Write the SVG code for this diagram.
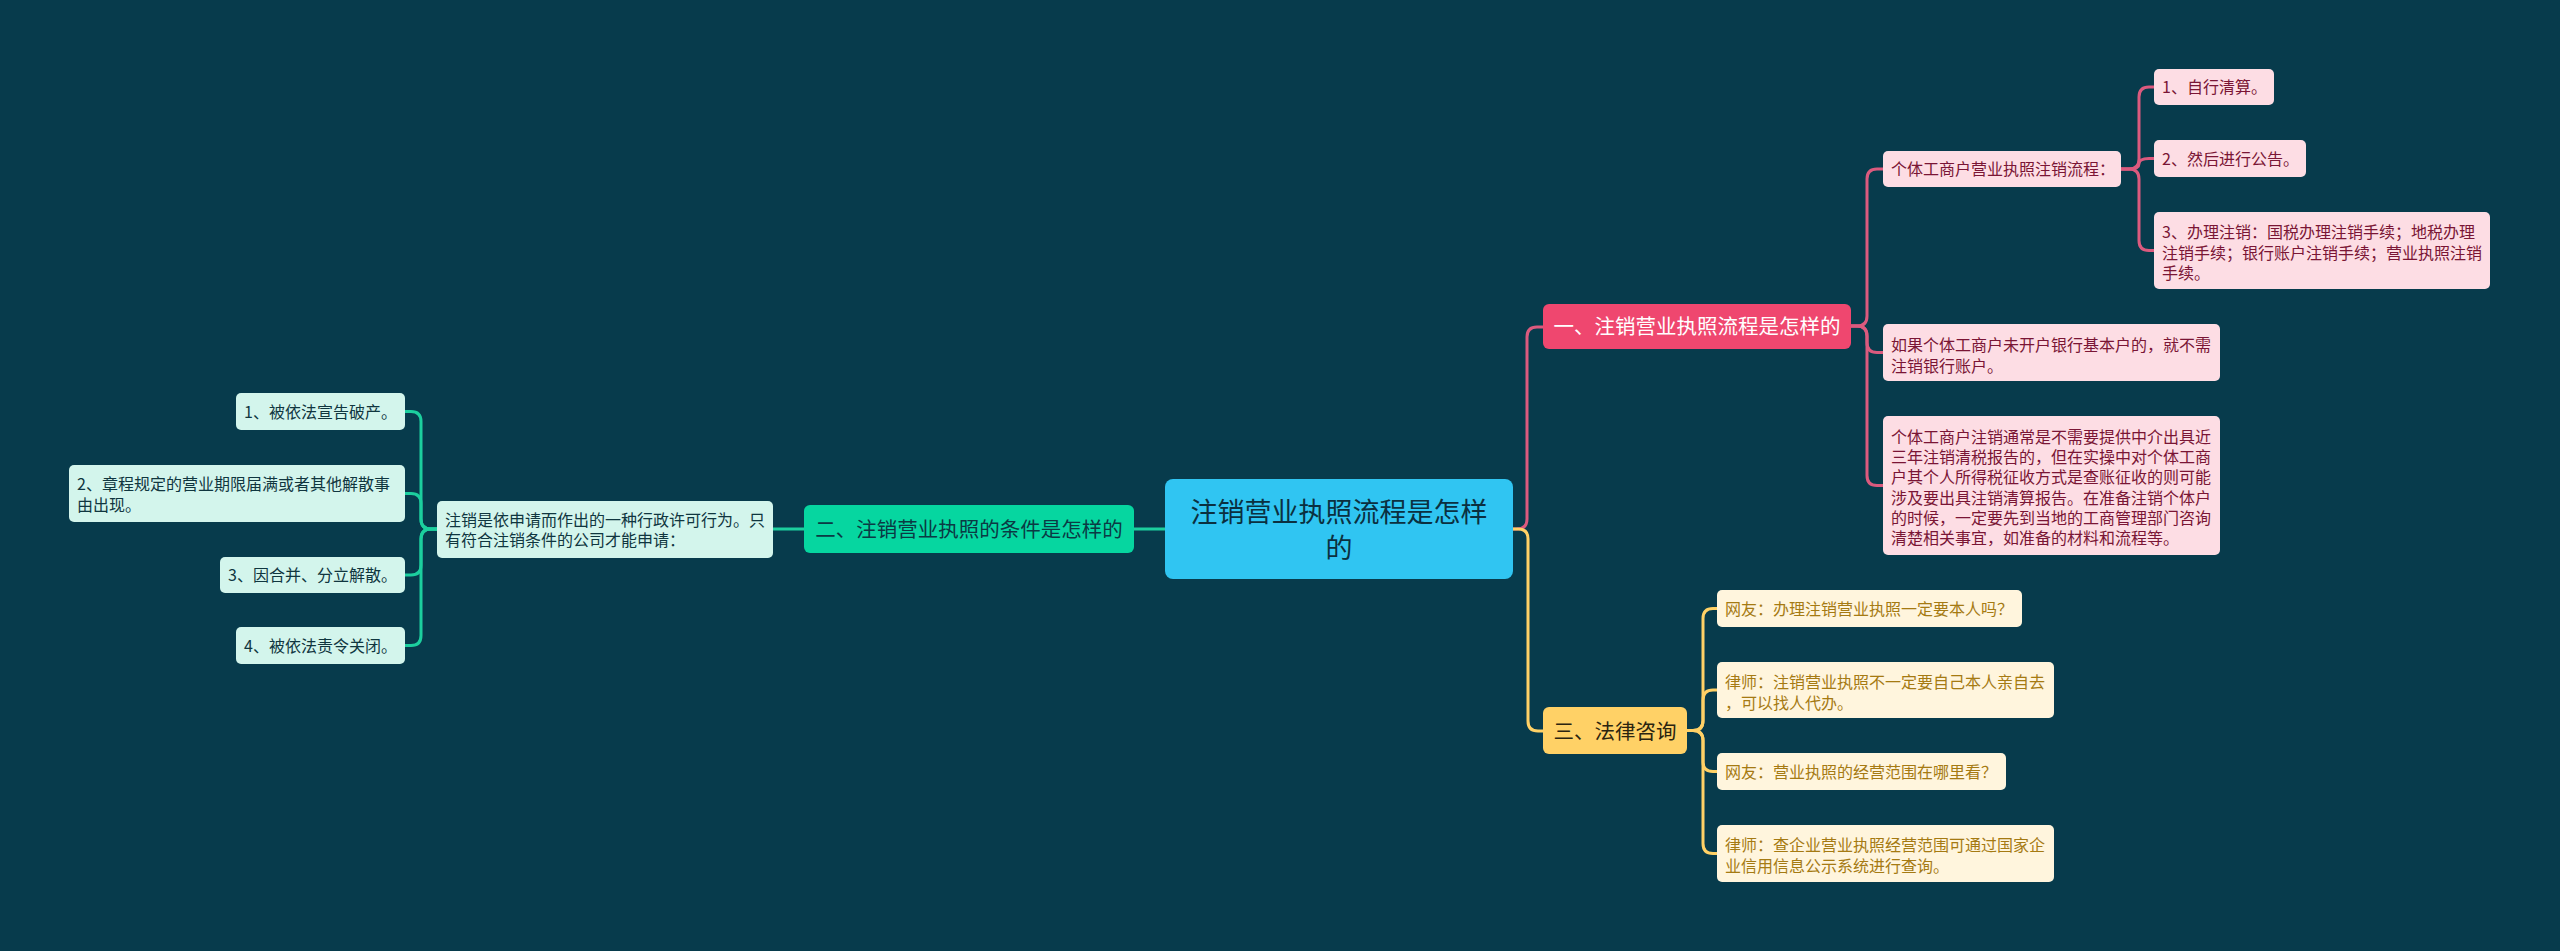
<svg xmlns="http://www.w3.org/2000/svg" width="2560" height="951" viewBox="0 0 2560 951">
<style>
text{font-family:"Noto Sans CJK SC","Microsoft YaHei",sans-serif;}
.conn{fill:none;stroke-width:3;stroke-linejoin:round;stroke-linecap:round;}
.pk{stroke:#DB5A7E;}
.gr{stroke:#1CCF9E;}
.yl{stroke:#FFD166;}
.leafP rect{fill:#FDDDE4;}
.leafP text{fill:#7A1535;font-size:16px;}
.leafY rect{fill:#FFF5DD;}
.leafY text{fill:#A57A12;font-size:16px;}
.leafG rect{fill:#D3F5EC;}
.leafG text{fill:#10363F;font-size:16px;}
.br text{font-size:20.5px;text-anchor:middle;}
</style>
<rect x="0" y="0" width="2560" height="951" fill="#073B4C"/>
<g id="connectors">
<path class="conn pk" d="M1513,529 H1517 Q1527,529 1527,519 V337 Q1527,327 1537,327 H1543"/>
<path class="conn yl" d="M1513,529 H1518 Q1528,529 1528,539 V721 Q1528,731 1538,731 H1543"/>
<path class="conn gr" d="M1165,529 H1134"/>
<path class="conn gr" d="M804,529 H773"/>
<path class="conn gr" d="M437,529 H431 Q421,529 421,519 V421.5 Q421,411.5 411,411.5 H405"/>
<path class="conn gr" d="M437,529 H431 Q421,529 421,519 V503.5 Q421,493.5 411,493.5 H405"/>
<path class="conn gr" d="M437,529 H431 Q421,529 421,539 V565 Q421,575 411,575 H405"/>
<path class="conn gr" d="M437,529 H431 Q421,529 421,539 V635.5 Q421,645.5 411,645.5 H405"/>
<path class="conn pk" d="M1851,326 H1857 Q1867,326 1867,316 V179 Q1867,169 1877,169 H1883"/>
<path class="conn pk" d="M1851,326 H1857 Q1867,326 1867,336 V342.5 Q1867,352.5 1877,352.5 H1883"/>
<path class="conn pk" d="M1851,326 H1857 Q1867,326 1867,336 V475.5 Q1867,485.5 1877,485.5 H1883"/>
<path class="conn pk" d="M2121,169 H2129 Q2139,169 2139,159 V97 Q2139,87 2149,87 H2154"/>
<path class="conn pk" d="M2121,169 H2129 Q2139,169 2139,163.75 Q2139,158.5 2149,158.5 H2154"/>
<path class="conn pk" d="M2121,169 H2129 Q2139,169 2139,179 V240.5 Q2139,250.5 2149,250.5 H2154"/>
<path class="conn yl" d="M1687,730.5 H1693 Q1703,730.5 1703,720.5 V618.5 Q1703,608.5 1713,608.5 H1717"/>
<path class="conn yl" d="M1687,730.5 H1693 Q1703,730.5 1703,720.5 V700 Q1703,690 1713,690 H1717"/>
<path class="conn yl" d="M1687,730.5 H1693 Q1703,730.5 1703,740.5 V761.5 Q1703,771.5 1713,771.5 H1717"/>
<path class="conn yl" d="M1687,730.5 H1693 Q1703,730.5 1703,740.5 V843.5 Q1703,853.5 1713,853.5 H1717"/>
</g>
<g id="center">
<rect x="1165" y="479" width="348" height="100" rx="8" fill="#30C5F2"/>
<text x="1339" y="522" font-size="27" fill="#0B3040" text-anchor="middle">注销营业执照流程是怎样</text>
<text x="1339" y="558" font-size="27" fill="#0B3040" text-anchor="middle">的</text>
</g>
<g id="branch1" class="br">
<rect x="1543" y="304" width="308" height="45" rx="6" fill="#EF476F"/>
<text x="1697" y="334" fill="#FFFFFF">一、注销营业执照流程是怎样的</text>
</g>
<g id="branch2" class="br">
<rect x="804" y="505" width="330" height="48" rx="6" fill="#06D6A0"/>
<text x="969" y="537" fill="#0B3A44">二、注销营业执照的条件是怎样的</text>
</g>
<g id="branch3" class="br">
<rect x="1543" y="707" width="144" height="47" rx="6" fill="#FFD166"/>
<text x="1615" y="738.5" fill="#2B2410">三、法律咨询</text>
</g>
<g id="p0" class="leafP">
<rect x="1883" y="151" width="238" height="36" rx="5"/>
<text x="1891" y="175">个体工商户营业执照注销流程：</text>
</g>
<g id="p1" class="leafP">
<rect x="2154" y="69" width="120" height="36" rx="5"/>
<text x="2162" y="93">1、自行清算。</text>
</g>
<g id="p2" class="leafP">
<rect x="2154" y="140" width="152" height="37" rx="5"/>
<text x="2162" y="164.5">2、然后进行公告。</text>
</g>
<g id="p3" class="leafP">
<rect x="2154" y="212" width="336" height="77" rx="5"/>
<text x="2162" y="238">3、办理注销：国税办理注销手续；地税办理</text>
<text x="2162" y="258.5">注销手续；银行账户注销手续；营业执照注销</text>
<text x="2162" y="279">手续。</text>
</g>
<g id="p4" class="leafP">
<rect x="1883" y="324" width="337" height="57" rx="5"/>
<text x="1891" y="351">如果个体工商户未开户银行基本户的，就不需</text>
<text x="1891" y="371.5">注销银行账户。</text>
</g>
<g id="p5" class="leafP">
<rect x="1883" y="416" width="337" height="139" rx="5"/>
<text x="1891" y="443">个体工商户注销通常是不需要提供中介出具近</text>
<text x="1891" y="463.2">三年注销清税报告的，但在实操中对个体工商</text>
<text x="1891" y="483.4">户其个人所得税征收方式是查账征收的则可能</text>
<text x="1891" y="503.6">涉及要出具注销清算报告。在准备注销个体户</text>
<text x="1891" y="523.8">的时候，一定要先到当地的工商管理部门咨询</text>
<text x="1891" y="544">清楚相关事宜，如准备的材料和流程等。</text>
</g>
<g id="y1" class="leafY">
<rect x="1717" y="590" width="305" height="37" rx="5"/>
<text x="1725" y="614.5">网友：办理注销营业执照一定要本人吗？</text>
</g>
<g id="y2" class="leafY">
<rect x="1717" y="662" width="337" height="56" rx="5"/>
<text x="1725" y="688">律师：注销营业执照不一定要自己本人亲自去</text>
<text x="1725" y="708.5">，可以找人代办。</text>
</g>
<g id="y3" class="leafY">
<rect x="1717" y="753" width="289" height="37" rx="5"/>
<text x="1725" y="777.5">网友：营业执照的经营范围在哪里看？</text>
</g>
<g id="y4" class="leafY">
<rect x="1717" y="825" width="337" height="57" rx="5"/>
<text x="1725" y="851">律师：查企业营业执照经营范围可通过国家企</text>
<text x="1725" y="871.5">业信用信息公示系统进行查询。</text>
</g>
<g id="g0" class="leafG">
<rect x="437" y="501" width="336" height="57" rx="5"/>
<text x="445" y="525.5">注销是依申请而作出的一种行政许可行为。只</text>
<text x="445" y="546">有符合注销条件的公司才能申请：</text>
</g>
<g id="g1" class="leafG">
<rect x="236" y="393" width="169" height="37" rx="5"/>
<text x="244" y="417.5">1、被依法宣告破产。</text>
</g>
<g id="g2" class="leafG">
<rect x="69" y="465" width="336" height="57" rx="5"/>
<text x="77" y="490">2、章程规定的营业期限届满或者其他解散事</text>
<text x="77" y="510.5">由出现。</text>
</g>
<g id="g3" class="leafG">
<rect x="220" y="557" width="185" height="36" rx="5"/>
<text x="228" y="581">3、因合并、分立解散。</text>
</g>
<g id="g4" class="leafG">
<rect x="236" y="627" width="169" height="37" rx="5"/>
<text x="244" y="651.5">4、被依法责令关闭。</text>
</g>
</svg>
